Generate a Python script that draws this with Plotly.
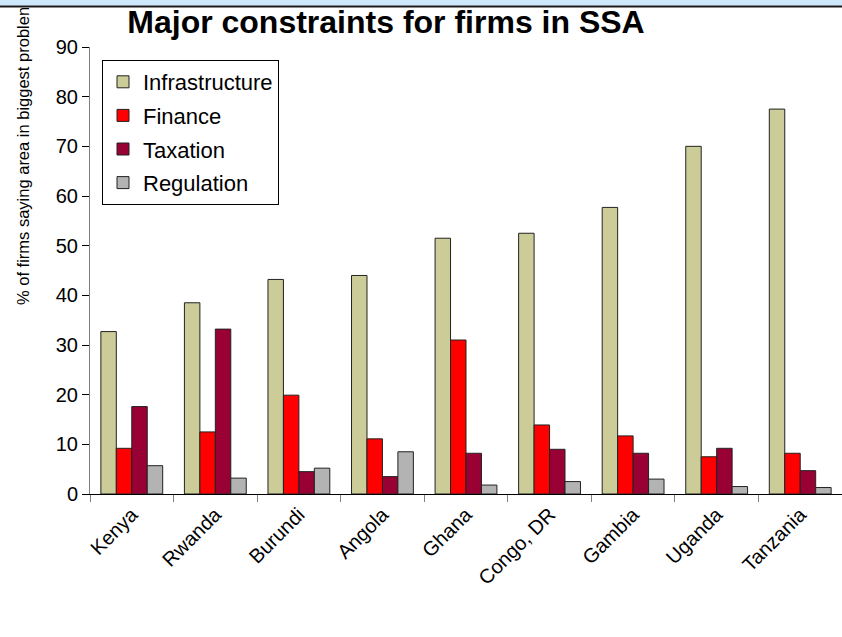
import plotly.graph_objects as go

countries = ["Kenya", "Rwanda", "Burundi", "Angola", "Ghana", "Congo, DR", "Gambia", "Uganda", "Tanzania"]
infrastructure = [32.7, 38.5, 43.2, 44.0, 51.5, 52.5, 57.7, 70.0, 77.5]
finance = [9.2, 12.5, 19.9, 11.1, 31.0, 13.9, 11.7, 7.5, 8.2]
taxation = [17.6, 33.2, 4.5, 3.5, 8.2, 9.0, 8.2, 9.2, 4.7]
regulation = [5.7, 3.2, 5.2, 8.5, 1.8, 2.5, 3.0, 1.5, 1.3]

series = [
    ("Infrastructure", infrastructure, "#CCCC99"),
    ("Finance", finance, "#FF0000"),
    ("Taxation", taxation, "#990033"),
    ("Regulation", regulation, "#B3B3B3"),
]

W, H = 842, 637
L, R, T, B = 90, 0, 47, 143
pw, ph = W - L - R, H - T - B

fig = go.Figure()
for i, (name, vals, col) in enumerate(series):
    fig.add_trace(go.Bar(
        x=countries, y=vals, name=name, legendgroup=f"g{i}",
        marker=dict(color=col, line=dict(color="#222222", width=1)),
    ))

font = "Liberation Sans, Arial, sans-serif"

def px_x(p):
    return (p - L) / pw

def px_y(p):
    return (H - B - p) / ph

fig.update_layout(
    width=W, height=H,
    margin=dict(l=L, r=R, t=T, b=B),
    paper_bgcolor="white", plot_bgcolor="white",
    barmode="group", bargap=0.26, bargroupgap=0,
    font=dict(family=font, color="black", size=19),
    title=dict(text="<b>Major constraints for firms in SSA</b>",
               x=386 / W, xanchor="center", xref="container",
               y=1 - 22 / H, yanchor="middle",
               font=dict(family=font, size=32, color="black")),
    legend=dict(x=px_x(102), y=px_y(60), xanchor="left", yanchor="top",
                bgcolor="white", bordercolor="black", borderwidth=1,
                font=dict(family=font, size=22, color="black"),
                traceorder="grouped", tracegroupgap=2),
    xaxis=dict(showgrid=False, showline=True, linecolor="black", linewidth=1,
               ticks="outside", tickson="boundaries", ticklen=7, tickcolor="#808080",
               tickangle=-45, tickfont=dict(family=font, size=20)),
    yaxis=dict(range=[0, 90], dtick=10, showgrid=False, showline=True,
               linecolor="#808080", linewidth=1, ticks="outside", ticklen=7,
               tickcolor="black", tickfont=dict(family=font, size=20),
               zeroline=False),
    showlegend=True,
)

fig.add_annotation(text="% of firms saying area in biggest problen", textangle=-90,
                   xref="paper", yref="paper", x=px_x(23), y=px_y(156),
                   xanchor="center", yanchor="middle", showarrow=False,
                   font=dict(family=font, size=16.5, color="black"))

# top banner strip
fig.add_shape(type="rect", xref="paper", yref="paper", x0=px_x(0), x1=px_x(W),
              y0=px_y(5.5), y1=px_y(0), fillcolor="#CCE8FA", line=dict(width=0), layer="above")
fig.add_shape(type="rect", xref="paper", yref="paper", x0=px_x(0), x1=px_x(W),
              y0=px_y(7.5), y1=px_y(5.5), fillcolor="#1A1A1A", line=dict(width=0), layer="above")

fig.write_html("out.html", config={"displayModeBar": False},
               post_script="document.body.style.margin='0';document.body.style.padding='0';")
